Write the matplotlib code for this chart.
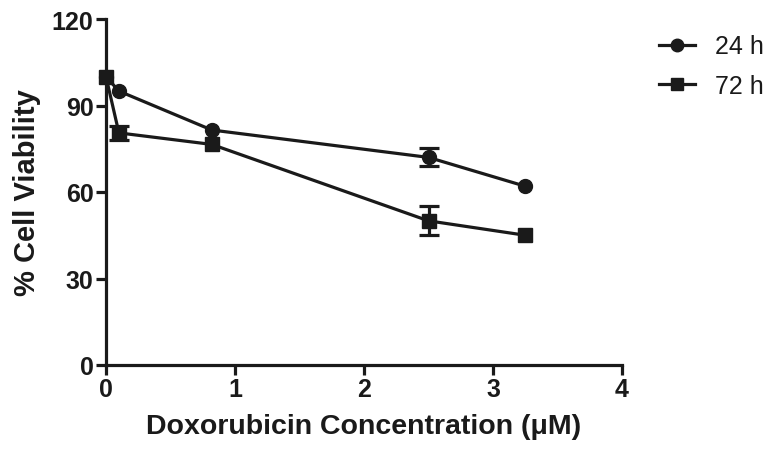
import matplotlib
matplotlib.use("Agg")
import matplotlib.pyplot as plt

conc_24 = [0.0, 0.1, 0.82, 2.5, 3.25]
viab_24 = [100.0, 95.0, 81.5, 72.0, 62.0]
err_24 = [0.0, 0.0, 0.0, 3.1, 0.0]

conc_72 = [0.0, 0.1, 0.82, 2.5, 3.25]
viab_72 = [100.0, 80.5, 76.5, 50.0, 45.0]
err_72 = [0.0, 2.4, 0.0, 5.0, 0.0]

xticks = [0, 1, 2, 3, 4]
yticks = [0, 30, 60, 90, 120]

plt.rcParams['font.family'] = ['Liberation Sans', 'DejaVu Sans']

fig = plt.figure(figsize=(7.74, 4.52), dpi=100)
ax = fig.add_axes([106/774, 86/452, 516/774, 346/452])

lw = 2.3
ink = '#1a1a1a'


def draw(x, y, e, marker, label):
    line, = ax.plot(x, y, color=ink, marker=marker, markersize=10, linewidth=lw,
                    clip_on=False, label=label, zorder=3)
    xs = [xi for xi, ei in zip(x, e) if ei > 0]
    ys = [yi for yi, ei in zip(y, e) if ei > 0]
    es = [ei for ei in e if ei > 0]
    if xs:
        c = ax.errorbar(xs, ys, yerr=es, fmt='none', ecolor=ink, elinewidth=lw,
                        capsize=7, capthick=lw, zorder=3)
        for a in c.lines[1]:
            a.set_clip_on(False)
        for a in c.lines[2]:
            a.set_clip_on(False)
    return line


l1 = draw(conc_24, viab_24, err_24, 'o', '24 h')
l2 = draw(conc_72, viab_72, err_72, 's', '72 h')

ax.set_xlim(0, 4)
ax.set_ylim(0, 120)
ax.set_xticks(xticks)
ax.set_yticks(yticks)
ax.spines['top'].set_visible(False)
ax.spines['right'].set_visible(False)
for s in ('left', 'bottom'):
    ax.spines[s].set_linewidth(lw)
    ax.spines[s].set_color(ink)
ax.tick_params(width=lw, length=7, color=ink, labelsize=18, pad=2)
for lab in ax.get_xticklabels() + ax.get_yticklabels():
    lab.set_fontweight('bold')
    lab.set_color(ink)

ax.set_xlabel('Doxorubicin Concentration (μM)', fontsize=20.5, fontweight='bold', color=ink, labelpad=8)
ax.set_ylabel('% Cell Viability', fontsize=21, fontweight='bold', color=ink, labelpad=8)

leg = fig.legend(handles=[l1, l2], labels=['24 h', '72 h'],
                 loc='upper left', bbox_to_anchor=(641/774, 1 - 18/452), frameon=False,
                 fontsize=18, handlelength=1.45, handletextpad=0.8, labelspacing=0.6,
                 borderaxespad=0.3, markerscale=0.9)
for t in leg.get_texts():
    t.set_color(ink)

fig.savefig('out.png', dpi=100)
